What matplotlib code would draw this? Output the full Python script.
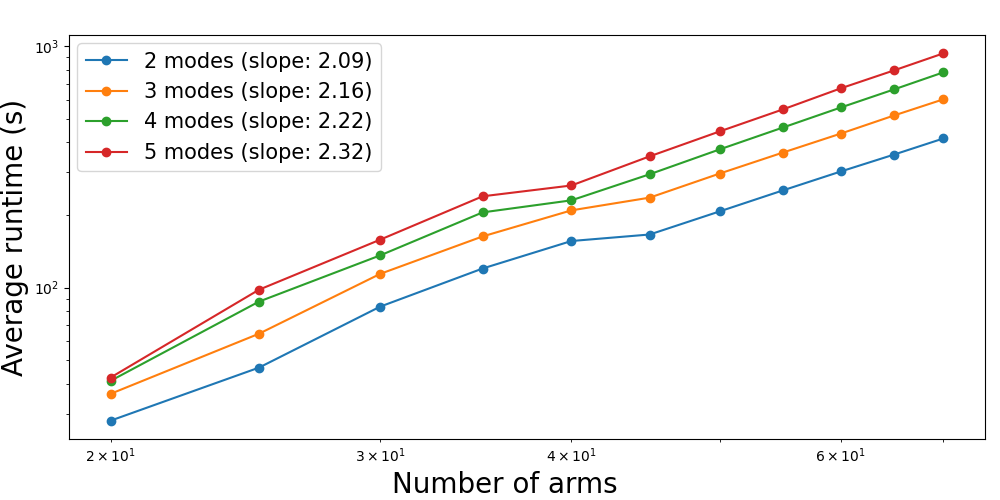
import numpy as np
import matplotlib
matplotlib.use('Agg')
import matplotlib.pyplot as plt

# number of arms
arms = [20, 25, 30, 35, 40, 45, 50, 55, 60, 65, 70]

# average runtime (s) per number of modes
modes_2 = [28.1, 46.6, 83.4, 120, 156, 166, 207, 253, 303, 356, 415]
modes_3 = [36.3, 64.4, 114, 163, 209, 236, 297, 363, 435, 517, 603]
modes_4 = [41.1, 87.5, 136, 205, 230, 295, 374, 461, 558, 663, 780]
modes_5 = [42.4, 98, 158, 239, 265, 350, 444, 548, 670, 795, 935]

labels = ['2 modes (slope: 2.09)', '3 modes (slope: 2.16)',
          '4 modes (slope: 2.22)', '5 modes (slope: 2.32)']

fig, ax = plt.subplots(figsize=(10, 5), dpi=100)

for series, label in zip([modes_2, modes_3, modes_4, modes_5], labels):
    ax.plot(arms, series, marker='o', label=label)

ax.set_xscale('log')
ax.set_yscale('log')
ax.set_xlabel('Number of arms', fontsize=20)
ax.xaxis.label.set_x(0.476)  # label sits a bit left of centre in the original
ax.set_ylabel('Average runtime (s)', fontsize=20)
ax.legend(fontsize=15, loc='upper left', borderaxespad=0.4)

fig.subplots_adjust(left=0.069, right=0.985, top=0.93, bottom=0.122)
fig.savefig('out.png')
